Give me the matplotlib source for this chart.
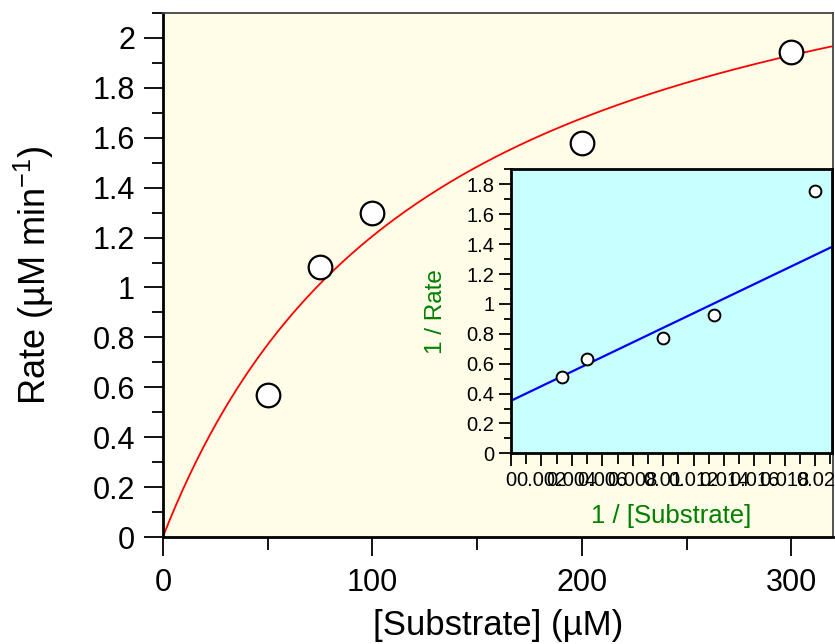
import numpy as np
import matplotlib
matplotlib.use("Agg")
import matplotlib.pyplot as plt
from matplotlib.ticker import MultipleLocator, FuncFormatter

plt.rcParams['font.family'] = ['Liberation Sans', 'DejaVu Sans']
plt.rcParams['mathtext.fontset'] = 'custom'
plt.rcParams['mathtext.rm'] = 'Liberation Sans'

# measured data
substrate = np.array([50, 75, 100, 200, 300])
rate = np.array([0.57, 1.08, 1.30, 1.58, 1.945])

# Michaelis-Menten fit
vmax = 2.76
km = 129.0

# Lineweaver-Burk line
lb_intercept = 0.352
lb_slope = 48.8

fmt = FuncFormatter(lambda v, p: "%g" % round(v, 6))

fig = plt.figure(figsize=(8.35, 6.44), dpi=100)
ax = fig.add_axes([0.195, 0.166, 0.803, 0.814])
ax.set_facecolor('#fffde8')

s_fit = np.linspace(0, 320, 300)
ax.plot(s_fit, vmax * s_fit / (km + s_fit), color='red', lw=1.3, zorder=2)
ax.plot(substrate, rate, 'o', ms=17, mfc='white', mec='black', mew=1.6, zorder=3)

ax.set_xlim(0, 320)
ax.set_ylim(0, 2.1)
ax.xaxis.set_major_locator(MultipleLocator(100))
ax.xaxis.set_minor_locator(MultipleLocator(50))
ax.yaxis.set_major_locator(MultipleLocator(0.2))
ax.yaxis.set_minor_locator(MultipleLocator(0.1))
ax.yaxis.set_major_formatter(fmt)
ax.tick_params(which='major', direction='out', length=14, width=1.3, labelsize=22, pad=6)
ax.tick_params(which='minor', direction='out', length=8, width=1.3)
ax.tick_params(axis='x', which='minor', length=9)
ax.tick_params(axis='x', which='major', pad=8)

for side in ['left', 'bottom']:
    ax.spines[side].set_linewidth(2)
    ax.spines[side].set_color('black')
for side in ['top', 'right']:
    ax.spines[side].set_linewidth(1.3)
    ax.spines[side].set_color('#444444')

ax.set_xlabel('[Substrate] (µM)', fontsize=25, labelpad=8)
ax.set_ylabel(r'Rate (µM min$^{\mathregular{-1}}$)', fontsize=26, labelpad=26)

# inset: double reciprocal plot
ins = fig.add_axes([0.612, 0.296, 0.3844, 0.441])
ins.set_facecolor('#c8ffff')
x_line = np.array([0, 0.0211])
ins.plot(x_line, lb_intercept + lb_slope * x_line, color='blue', lw=1.6, zorder=2)
ins.plot(1 / substrate, 1 / rate, 'o', ms=8.5, mfc='white', mec='black', mew=1.4, zorder=3)

ins.set_xlim(0, 0.0211)
ins.set_ylim(0, 1.9)
ins.xaxis.set_major_locator(MultipleLocator(0.002))
ins.xaxis.set_minor_locator(MultipleLocator(0.001))
ins.yaxis.set_major_locator(MultipleLocator(0.2))
ins.yaxis.set_minor_locator(MultipleLocator(0.1))
ins.xaxis.set_major_formatter(fmt)
ins.yaxis.set_major_formatter(fmt)
ins.tick_params(which='major', direction='out', length=9, width=1.3, labelsize=14.5, pad=3)
ins.tick_params(which='minor', direction='out', length=5, width=1.3)
ins.tick_params(axis='x', which='minor', length=8)
ins.tick_params(axis='x', which='major', pad=4)
for side in ins.spines:
    ins.spines[side].set_linewidth(2)
    ins.spines[side].set_color('black')

ins.set_xlabel('1 / [Substrate]', fontsize=18.5, color='green', labelpad=10)
ins.set_ylabel('1 / Rate', fontsize=17.5, color='green', labelpad=14)

fig.savefig('out.png', dpi=100)
